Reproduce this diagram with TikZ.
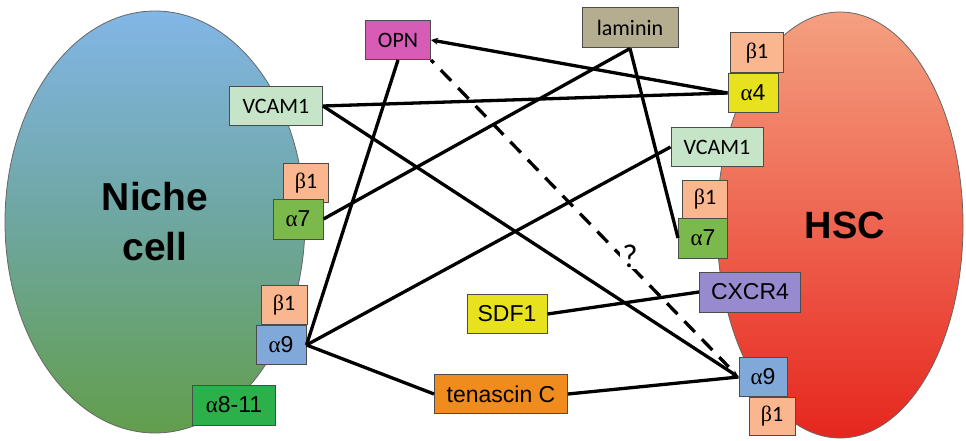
\documentclass[tikz,border=0pt]{standalone}
\usepackage{fontspec}
\setmainfont{Liberation Sans}
\newfontfamily\carl{Carlito}
\newfontfamily\grk{Liberation Serif}
\usetikzlibrary{shapes.geometric,arrows.meta}

\definecolor{nichetop}{RGB}{130,182,230}
\definecolor{nichemid}{RGB}{110,166,160}
\definecolor{nichebot}{RGB}{98,158,76}
\definecolor{hsctop}{RGB}{244,160,128}
\definecolor{hscmid}{RGB}{238,100,80}
\definecolor{hscbot}{RGB}{230,38,30}
\definecolor{opncol}{RGB}{214,92,182}
\definecolor{lamcol}{RGB}{181,173,143}
\definecolor{betacol}{RGB}{250,182,142}
\definecolor{yelcol}{RGB}{232,226,30}
\definecolor{vcamcol}{RGB}{198,228,200}
\definecolor{a7col}{RGB}{124,185,76}
\definecolor{cxcol}{RGB}{152,138,206}
\definecolor{tnccol}{RGB}{240,140,30}
\definecolor{a9col}{RGB}{128,168,216}
\definecolor{a811col}{RGB}{44,176,74}

\newcommand{\bone}{{\grk β}1}
\newcommand{\alf}{{\grk α}}

\begin{document}
\begin{tikzpicture}
  [x=1pt,y=-1pt,every node/.style={inner sep=0pt},
   cell/.style={ellipse,draw=black!60,line width=0.8pt,font=\bfseries\fontsize{39}{50}\selectfont,align=center},
   box/.style={draw=black!70,line width=1pt,minimum height=39pt,font=\fontsize{23}{25}\selectfont},
   cbox/.style={box,font=\carl\fontsize{22}{24}\selectfont},
   link/.style={line width=3.3pt},
   tip/.style={-{Stealth[length=7pt,width=7pt]}}]
  \useasboundingbox (0,0) rectangle (966,441);

  % the two cells
  \node[cell,top color=nichetop,bottom color=nichebot,middle color=nichemid,
        minimum width=300pt,minimum height=422pt] (niche) at (155,222) {Niche\\cell};
  \node[cell,top color=hsctop,bottom color=hscbot,middle color=hscmid,
        minimum width=246pt,minimum height=426pt] (hsc) at (840,225) {};
  \node[font=\bfseries\fontsize{38}{40}\selectfont] (hsclab) at (845,225) {HSC};

  % ligands
  \node[cbox,fill=opncol,minimum width=65pt] (opn) at (398,40) {OPN};
  \node[cbox,fill=lamcol,minimum width=96pt,minimum height=40pt] (lam) at (630,28) {laminin};
  \node[cbox,fill=vcamcol,minimum width=93pt] (vcl) at (276,106) {VCAM1};
  \node[cbox,fill=vcamcol,minimum width=92pt] (vcr) at (717,147) {VCAM1};
  \node[box,fill=yelcol,minimum width=80pt] (sdf) at (507,314) {SDF1};
  \node[box,fill=tnccol,minimum width=133pt] (tnc) at (501,394) {tenascin C};

  % niche cell receptors
  \node[cbox,fill=betacol,minimum width=45pt] (b1l) at (306,183) {\bone};
  \node[box,fill=a7col,minimum width=50pt,minimum height=40pt] (a7l) at (298,219) {\alf7};
  \node[cbox,fill=betacol,minimum width=46pt] (b1m) at (284,305) {\bone};
  \node[box,fill=a9col,minimum width=50pt] (a9l) at (281,345) {\alf9};
  \node[box,fill=a811col,minimum width=83pt,minimum height=40pt] (a811) at (234,405) {\alf8-11};

  % HSC receptors
  \node[cbox,fill=betacol,minimum width=53pt,minimum height=40pt] (b1a) at (757,53) {\bone};
  \node[box,fill=yelcol,minimum width=50pt] (a4) at (753,93) {\alf4};
  \node[cbox,fill=betacol,minimum width=45pt,minimum height=38pt] (b1b) at (705,199) {\bone};
  \node[box,fill=a7col,minimum width=49pt,minimum height=40pt] (a7r) at (703,238) {\alf7};
  \node[box,fill=cxcol,minimum width=101pt,minimum height=40pt] (cxcr) at (750,292) {CXCR4};
  \node[box,fill=a9col,minimum width=48pt] (a9r) at (763,377) {\alf9};
  \node[cbox,fill=betacol,minimum width=46pt,minimum height=38pt] (b1c) at (772,416) {\bone};

  % interactions
  \foreach \from/\to in {vcl.east/a4.west,lam.south/a7l.east,lam.south/a7r.west,
                         opn.south/a9l.east,vcr.west/a9l.east,a9l.east/tnc.west,
                         tnc.east/a9r.west,sdf.east/cxcr.west}
    \draw[link] (\from) -- (\to);
  \draw[link,tip] (a4.west) -- (opn.east);
  \draw[link,tip] (vcl.east) -- (a9r.west);
  \draw[link,dash pattern=on 15pt off 10pt,dash phase=-14pt,shorten >=14pt] (opn.south east) -- (a9r.west);

  \node[fill=white,inner sep=2pt,font=\carl\fontsize{33}{35}\selectfont] (q) at (630,256) {?};

\end{tikzpicture}
\end{document}
